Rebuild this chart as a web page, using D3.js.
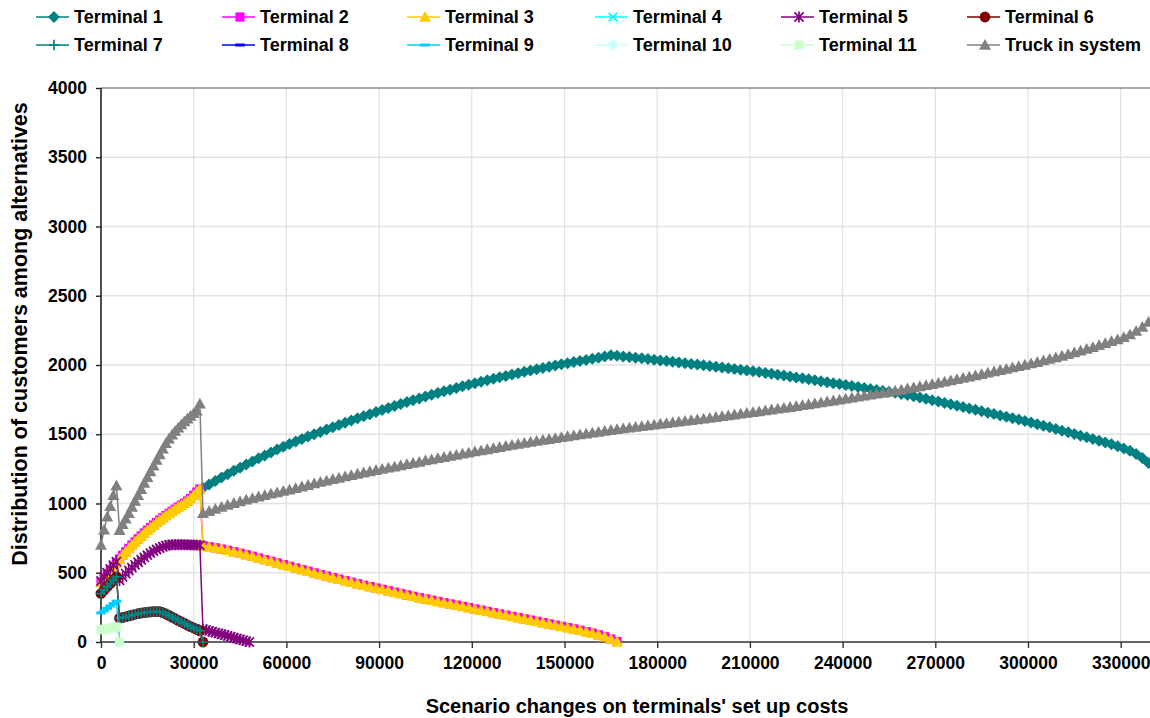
<!DOCTYPE html>
<html>
<head>
<meta charset="utf-8">
<script src="https://cdn.jsdelivr.net/npm/d3@7/dist/d3.min.js"></script>
<style>
  html, body { margin: 0; padding: 0; background: #fff; }
  svg { display: block; }
  text { font-family: "Liberation Sans", Arial, sans-serif; font-weight: bold; fill: #000; }
</style>
</head>
<body>
<svg id="chart" width="1150" height="718"></svg>
<script>
// Scenario steps (set-up cost changes)
const xEarly = d3.range(0, 6000, 1000);        // 0 .. 5000
const xMid   = d3.range(6000, 33000, 1000);    // 6000 .. 32000
const xLate  = d3.range(33000, 340000, 2000);  // 33000 .. 339000
const xTail5 = d3.range(33000, 49000, 1000);   // 33000 .. 48000

const xTicks = d3.range(0, 330001, 30000);
const yTicks = d3.range(0, 4001, 500);

// Terminal 1
const t1Late = [1112,1138,1163,1188,1212,1236,1259,1282,1304,1326,1347,1368,1389,1409,1429,
  1447,1465,1483,1500,1517,1534,1551,1567,1583,1599,1615,1630,1645,1660,1675,
  1690,1704,1718,1732,1746,1759,1772,1785,1798,1810,1822,1834,1846,1857,1868,
  1879,1890,1901,1911,1921,1931,1941,1951,1961,1970,1979,1988,1997,2005,2013,
  2021,2029,2037,2045,2053,2061,2070,
  2066,2062,2058,2053,2048,2043,2038,2033,2028,2023,2018,2013,2008,2003,1998,1993,1988,1982,1977,1972,1966,1960,1955,
  1949,1943,1937,1930,1924,1917,1910,1904,1897,1890,1883,1876,1869,1862,1855,
  1848,1841,1834,1827,1820,1813,1806,1799,
  1791,1783,1774,1765,1756,1746,1736,1726,1716,1706,1696,1686,1676,1666,1656,1646,1636,1626,1616,1606,1595,1584,1573,1562,1550,1538,1526,1514,1502,1490,1478,1466,1453,1440,1427,1413,1398,1380,1358,1328,1292];

// Terminals 2 and 3 (same allocation)
const t23Early = [430,460,490,518,546,573];
const t23Mid = [600,626,651,676,700,723,745,766,787,807,826,845,863,880,897,913,929,944,959,974,988,1002,1018,1036,1060,1083,1105];
const t23Late = [695,688,680,671,662,652,641,630,619,607,595,583,571,559,547,
  535,523,511,499,487,476,465,454,443,432,421,410,400,390,380,
  370,360,350,340,330,320,311,302,293,284,275,266,257,248,239,
  230,221,212,203,194,185,176,167,158,149,140,131,122,113,104,
  95,85,75,64,52,38,22,3];

// Terminal 5
const t5Early = [440,470,500,528,555,580];
const t5Mid = [445,470,494,516,537,557,576,594,611,627,642,656,668,679,688,695,700,702,703,703,703,702,702,701,700,700,699];
const t5Tail = [92,86,80,74,68,62,56,50,44,38,31,25,18,12,6,0];

// Terminals 6 and 7
const t67Early = [350,375,400,423,447,470];
const t67Mid = [172,177,182,188,194,200,205,209,212,215,217,219,220,219,212,202,192,180,168,156,145,134,122,111,101,91,80];
const t67End = [0];

// Terminal 9
const t9Early = [210,225,243,260,278,295];
const t9End = [0];

// Terminal 11
const t11Early = [88,92,96,100,104,108];
const t11End = [0];

// Truck in system
const truckEarly = [700,810,905,980,1060,1130];
const truckMid = [808,850,890,930,975,1018,1060,1104,1148,1190,1232,1273,1314,1355,1395,1435,1468,1497,1523,1547,1570,1592,1613,1633,1652,1670,1720];
const truckLate = [930,945,960,975,990,1003,1015,1027,1038,1050,1060,1070,1080,1090,1100,
  1111,1122,1133,1144,1155,1165,1175,1185,1195,1204,1214,1223,1232,1241,1250,
  1258,1266,1275,1283,1292,1300,1310,1318,1327,1335,1343,1351,1359,1367,1375,
  1383,1391,1399,1407,1415,1422,1430,1437,1444,1451,1458,1465,1472,1478,1485,
  1491,1498,1504,1511,1517,1524,1530,1536,1541,1547,1552,1558,1563,1569,1575,
  1580,1585,1590,1596,1601,1606,1612,1618,1624,1630,1636,1642,1648,1653,1659,
  1665,1671,1678,1684,1690,1696,1702,1709,1716,1722,1729,1736,1743,1750,1757,
  1764,1771,1778,1785,1792,1799,1806,1814,1822,1830,1838,1846,1854,1862,1870,
  1879,1888,1897,1906,1915,1925,1934,1944,1953,1963,1972,1982,1991,2001,2011,
  2021,2032,2043,2054,2066,2078,2090,2103,2116,2129,2143,2157,2171,2185,2200,
  2220,2245,2275,2310];

const seriesNames = ["Terminal 1","Terminal 2","Terminal 3","Terminal 4","Terminal 5","Terminal 6",
  "Terminal 7","Terminal 8","Terminal 9","Terminal 10","Terminal 11","Truck in system"];
const seriesColors = ["#008080","#FF00FF","#FFCC00","#00FFFF","#800080","#800000",
  "#008080","#0000FF","#00CCFF","#CCFFFF","#CCFFCC","#808080"];
const seriesMarkers = ["diamond","square","triangle","cross","star","circle",
  "plus","dash","dash","diamond","square","triangle"];

// pair scenario steps with values
function zip(xs, ys) { return ys.map((v, i) => [xs[i], v]); }

const seriesPoints = [
  zip(xLate, t1Late),
  [...zip(xEarly, t23Early), ...zip(xMid, t23Mid), ...zip(xLate, t23Late)],
  [...zip(xEarly, t23Early), ...zip(xMid, t23Mid), ...zip(xLate, t23Late)],
  [],
  [...zip(xEarly, t5Early), ...zip(xMid, t5Mid), ...zip(xTail5, t5Tail)],
  [...zip(xEarly, t67Early), ...zip(xMid, t67Mid), ...zip([33000], t67End)],
  [...zip(xEarly, t67Early), ...zip(xMid, t67Mid), ...zip([33000], t67End)],
  [],
  [...zip(xEarly, t9Early), ...zip([6000], t9End)],
  [],
  [...zip(xEarly, t11Early), ...zip([6000], t11End)],
  [...zip(xEarly, truckEarly), ...zip(xMid, truckMid), ...zip(xLate, truckLate)]
];

const svg = d3.select("#chart");
const W = 1150, H = 718;
const plot = { left: 101, top: 88, bottom: 642 };
const x = d3.scaleLinear().domain([0, 340000]).range([plot.left, plot.left + 340000 * 92.7 / 30000]);
const y = d3.scaleLinear().domain([0, 4000]).range([plot.bottom, plot.top]);

// gridlines
const grid = svg.append("g");
grid.selectAll("line.h").data(yTicks.filter(v => v > 0 && v < 4000)).enter().append("line")
  .attr("x1", plot.left).attr("x2", W).attr("y1", d => y(d)).attr("y2", d => y(d))
  .attr("stroke", "#e2e2e2").attr("stroke-width", 1.3);
grid.selectAll("line.v").data(xTicks.filter(v => v > 0)).enter().append("line")
  .attr("x1", d => x(d)).attr("x2", d => x(d)).attr("y1", plot.top).attr("y2", plot.bottom)
  .attr("stroke", "#e2e2e2").attr("stroke-width", 1.3);

// top border of the plot area
svg.append("line").attr("x1", plot.left).attr("x2", W).attr("y1", plot.top).attr("y2", plot.top)
  .attr("stroke", "#8a8a8a").attr("stroke-width", 1.5);

// axes
const xAxis = d3.axisBottom(x).tickValues(xTicks).tickFormat(d3.format("d")).tickSize(6).tickPadding(9);
const yAxis = d3.axisLeft(y).tickValues(yTicks).tickFormat(d3.format("d")).tickSize(5).tickPadding(9);

const tickFont = 17.5;
const gx = svg.append("g").attr("transform", `translate(0,${plot.bottom})`).call(xAxis);
gx.select(".domain").attr("d", `M${plot.left},0H${W}`).attr("stroke", "#333").attr("stroke-width", 1.6);
gx.selectAll(".tick line").attr("stroke", "#333").attr("stroke-width", 1.4);
gx.selectAll(".tick text").attr("font-size", tickFont).attr("font-family", "Liberation Sans, Arial, sans-serif").attr("font-weight", "bold").attr("fill", "#000");

const gy = svg.append("g").attr("transform", `translate(${plot.left},0)`).call(yAxis);
gy.select(".domain").attr("d", `M0,${plot.top}V${plot.bottom}`).attr("stroke", "#222").attr("stroke-width", 1.6);
gy.selectAll(".tick line").attr("stroke", "#222").attr("stroke-width", 1.4);
gy.selectAll(".tick text").attr("font-size", tickFont).attr("font-family", "Liberation Sans, Arial, sans-serif").attr("font-weight", "bold").attr("fill", "#000");

// axis titles
svg.append("text").attr("x", 637).attr("y", 713).attr("text-anchor", "middle").attr("font-size", 20)
  .text("Scenario changes on terminals' set up costs");
svg.append("text").attr("transform", "translate(27,334) rotate(-90)").attr("text-anchor", "middle").attr("font-size", 21.5)
  .text("Distribution of customers among alternatives");

// marker shapes
function markerPath(type, s) {
  switch (type) {
    case "diamond": return `M0,${-s}L${s},0L0,${s}L${-s},0Z`;
    case "square": return `M${-s},${-s}h${2*s}v${2*s}h${-2*s}Z`;
    case "triangle": return `M0,${-s}L${s},${s*0.8}L${-s},${s*0.8}Z`;
    case "circle": return d3.symbol(d3.symbolCircle, Math.PI * s * s)();
    case "cross": return `M${-s},${-s}L${s},${s}M${-s},${s}L${s},${-s}`;
    case "star": return `M${-s},${-s}L${s},${s}M${-s},${s}L${s},${-s}M0,${-s*1.2}V${s*1.2}`;
    case "plus": return `M${-s},0H${s}M0,${-s}V${s}`;
    case "dash": return `M${-s},-1.5h${2*s}v3h${-2*s}Z`;
  }
}
const markerSize = { diamond: 6, square: 4.6, triangle: 6, circle: 5.4, cross: 4.2, star: 4.6, plus: 5.2, dash: 4.8 };
const strokeOnly = { cross: true, star: true, plus: true };

function drawMarker(sel, type, color) {
  const s = markerSize[type];
  sel.attr("d", markerPath(type, s));
  if (strokeOnly[type]) sel.attr("fill", "none").attr("stroke", color).attr("stroke-width", 1.7);
  else sel.attr("fill", color).attr("stroke", "none");
}

const line = d3.line().x(d => x(d[0])).y(d => y(d[1]));
const series = svg.append("g");
seriesPoints.forEach((pts, i) => {
  if (!pts.length) return;
  const g = series.append("g");
  g.append("path").datum(pts).attr("d", line).attr("fill", "none")
    .attr("stroke", seriesColors[i]).attr("stroke-width", 1.5);
  g.selectAll("path.m").data(pts).enter().append("path")
    .attr("transform", d => `translate(${x(d[0])},${y(d[1])})`)
    .each(function() { drawMarker(d3.select(this), seriesMarkers[i], seriesColors[i]); });
});

// legend
const legend = svg.append("g");
const colX = [74, 260, 445, 633, 819, 1005];
const rowY = [17, 45];
seriesNames.forEach((name, i) => {
  const cx = colX[i % 6], cy = rowY[Math.floor(i / 6)];
  const g = legend.append("g").attr("transform", `translate(${cx},${cy})`);
  g.append("line").attr("x1", -38).attr("x2", -5).attr("y1", 0).attr("y2", 0)
    .attr("stroke", seriesColors[i]).attr("stroke-width", 1.5);
  g.append("path").attr("transform", "translate(-20,0)")
    .call(sel => drawMarker(sel, seriesMarkers[i], seriesColors[i]));
  g.append("text").attr("x", 0).attr("y", 0).attr("dy", "0.35em").attr("font-size", 18).text(name);
});
</script>
</body>
</html>
